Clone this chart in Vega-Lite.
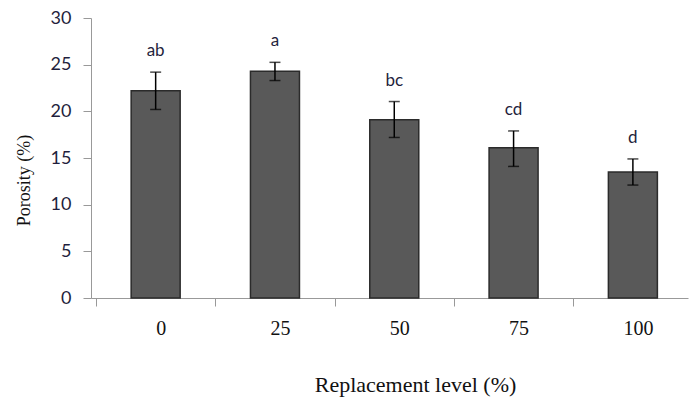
{
  "$schema": "https://vega.github.io/schema/vega-lite/v6.json",
  "width": 597,
  "height": 280,
  "autosize": "none",
  "padding": {"left": 91, "top": 18, "right": 1, "bottom": 101},
  "background": "white",
  "config": {"view": {"stroke": null}},
  "data": {
    "values": [
      {"level": 0, "porosity": 22.2, "low": 20.2, "high": 24.2, "group": "ab"},
      {"level": 25, "porosity": 24.3, "low": 23.3, "high": 25.25, "group": "a"},
      {"level": 50, "porosity": 19.1, "low": 17.2, "high": 21.05, "group": "bc"},
      {"level": 75, "porosity": 16.1, "low": 14.1, "high": 17.9, "group": "cd"},
      {"level": 100, "porosity": 13.5, "low": 12.1, "high": 14.9, "group": "d"}
    ]
  },
  "encoding": {
    "x": {
      "field": "level",
      "type": "quantitative",
      "scale": {"domain": [-12.5, 110.5], "nice": false, "zero": false},
      "axis": {
        "values": [-12.5, 0, 12.5, 25, 37.5, 50, 62.5, 75, 87.5, 100],
        "grid": false,
        "domainColor": "#999999",
        "domainWidth": 1,
        "tickColor": "#999999",
        "tickSize": 8,
        "tickOpacity": {"condition": {"test": "datum.value % 25 === 0", "value": 0}, "value": 1},
        "labelExpr": "datum.value % 25 === 0 ? format(datum.value, 'd') : ''",
        "labelOverlap": false,
        "labelFlush": false,
        "labelFont": "Liberation Serif",
        "labelFontSize": 20,
        "labelColor": "#111111",
        "labelBaseline": "middle",
        "labelPadding": 22,
        "labelOffset": 5,
        "title": "Replacement level (%)",
        "titleFont": "Liberation Serif",
        "titleFontSize": 22,
        "titleFontWeight": "normal",
        "titleColor": "#111111",
        "titleX": 324,
        "titleY": 86,
        "titleAlign": "center",
        "titleBaseline": "middle"
      }
    }
  },
  "layer": [
    {
      "mark": {"type": "bar", "orient": "vertical", "size": 49, "fill": "#595959", "stroke": "#2b2b2b", "strokeWidth": 1.5},
      "encoding": {
        "y": {
          "field": "porosity",
          "type": "quantitative",
          "title": "Porosity (%)",
          "scale": {"domain": [0, 30], "nice": false},
          "axis": {
            "values": [0, 5, 10, 15, 20, 25, 30],
            "grid": false,
            "domainColor": "#999999",
            "tickColor": "#999999",
            "tickSize": 8,
            "labelPadding": 12,
            "labelFont": "Lato",
            "labelFontSize": 18,
            "labelColor": "#1f1f3d",
            "titleFont": "Liberation Serif",
            "titleFontSize": 18,
            "titleFontWeight": "normal",
            "titleColor": "#111111",
            "titleX": -67,
            "titleY": 162,
            "titleAlign": "center",
            "titleBaseline": "middle"
          }
        }
      }
    },
    {
      "mark": {"type": "rule", "color": "#000000", "strokeWidth": 1.5},
      "encoding": {
        "y": {"field": "low", "type": "quantitative", "title": "Porosity (%)"},
        "y2": {"field": "high"}
      }
    },
    {
      "mark": {"type": "tick", "orient": "horizontal", "size": 11, "thickness": 1.5, "color": "#000000"},
      "encoding": {
        "y": {"field": "low", "type": "quantitative", "title": "Porosity (%)"}
      }
    },
    {
      "mark": {"type": "tick", "orient": "horizontal", "size": 11, "thickness": 1.5, "color": "#000000"},
      "encoding": {
        "y": {"field": "high", "type": "quantitative", "title": "Porosity (%)"}
      }
    },
    {
      "mark": {"type": "text", "dy": -21, "baseline": "middle", "align": "center", "font": "Lato", "fontSize": 17, "color": "#1f1f3d"},
      "encoding": {
        "y": {"field": "high", "type": "quantitative", "title": "Porosity (%)"},
        "text": {"field": "group"}
      }
    }
  ]
}
